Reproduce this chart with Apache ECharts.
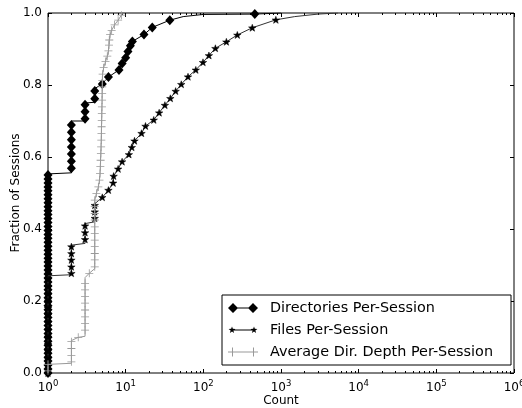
<!DOCTYPE html>
<html>
<head>
<meta charset="utf-8">
<script src="https://cdn.jsdelivr.net/npm/echarts@6/dist/echarts.min.js"></script>
<style>html,body{margin:0;padding:0;background:#fff;}#c{width:522px;height:408px;}</style>
</head>
<body>
<div id="c"></div>
<script>
// ---- data ----
const seriesNames = ['Directories Per-Session', 'Files Per-Session', 'Average Dir. Depth Per-Session'];
const xMajorTicks = [1, 10, 100, 1000, 10000, 100000, 1000000];
const xMinorTicks = [2,3,4,5,6,7,8,9,20,30,40,50,60,70,80,90,200,300,400,500,600,700,800,900,
  2000,3000,4000,5000,6000,7000,8000,9000,20000,30000,40000,50000,60000,70000,80000,90000,
  200000,300000,400000,500000,600000,700000,800000,900000];
const yTicks = [0, 0.2, 0.4, 0.6, 0.8, 1.0];

// Directories: curve vertices and marker points
const dirLine = [[1,0],[1,0.553],[2,0.556],[2,0.70],[3,0.70],[3,0.75],[4,0.752],[4,0.79],[5,0.803],[6,0.822],
  [8.2,0.842],[9,0.86],[10,0.876],[10.7,0.893],[11.5,0.909],[12.2,0.921],[17.2,0.94],[22,0.96],[37,0.98],
  [55,0.99],[100,0.996],[460,0.997],[1000,1.0]];
const dirMarks = [[1,0],[1,0.011],[1,0.022],[1,0.033],[1,0.044],[1,0.055],[1,0.066],[1,0.077],[1,0.088],[1,0.099],
  [1,0.11],[1,0.121],[1,0.132],[1,0.143],[1,0.154],[1,0.165],[1,0.176],[1,0.187],[1,0.198],[1,0.209],
  [1,0.22],[1,0.231],[1,0.242],[1,0.253],[1,0.264],[1,0.275],[1,0.286],[1,0.297],[1,0.308],[1,0.319],
  [1,0.33],[1,0.341],[1,0.352],[1,0.363],[1,0.374],[1,0.385],[1,0.396],[1,0.407],[1,0.418],[1,0.429],
  [1,0.44],[1,0.451],[1,0.462],[1,0.473],[1,0.484],[1,0.495],[1,0.506],[1,0.517],[1,0.528],[1,0.539],[1,0.55],
  [2,0.569],[2,0.588],[2,0.608],[2,0.628],[2,0.648],[2,0.669],[2,0.689],
  [3,0.706],[3,0.726],[3,0.745],[4,0.762],[4,0.783],
  [5,0.803],[6,0.822],[8.2,0.842],[9,0.86],[10,0.876],[10.7,0.893],[11.5,0.909],[12.2,0.921],
  [17.2,0.94],[22,0.96],[37,0.98],[460,0.997]];

// Files
const filesLine = [[1,0],[1,0.27],[2,0.273],[2,0.355],[3,0.36],[3,0.415],[4,0.42],[4,0.47],[5,0.488],[6,0.508],
  [6.9,0.528],[7,0.547],[8,0.567],[9,0.587],[11,0.607],[12,0.627],[13,0.645],[16,0.666],[18,0.686],[23,0.703],
  [27,0.723],[32,0.744],[37.6,0.763],[44,0.783],[52,0.802],[63.5,0.823],[80,0.842],[99,0.863],[118,0.882],
  [143,0.902],[198,0.92],[274,0.939],[427,0.959],[859,0.981],[1500,0.99],[3000,0.997],[5400,1.0]];
const filesMarks = [[1,0],[1,0.02],[1,0.04],[1,0.06],[1,0.08],[1,0.1],[1,0.12],[1,0.14],[1,0.16],[1,0.18],
  [1,0.2],[1,0.22],[1,0.24],[1,0.26],
  [2,0.277],[2,0.295],[2,0.314],[2,0.332],[2,0.351],[3,0.371],[3,0.39],[3,0.409],[4,0.43],[4,0.448],[4,0.466],
  [5,0.488],[6,0.508],[6.9,0.528],[7,0.547],[8,0.567],[9,0.587],[11,0.607],[12,0.627],[13,0.645],[16,0.666],
  [18,0.686],[23,0.703],[27,0.723],[32,0.744],[37.6,0.763],[44,0.783],[52,0.802],[63.5,0.823],[80,0.842],
  [99,0.863],[118,0.882],[143,0.902],[198,0.92],[274,0.939],[427,0.959],[859,0.981]];

// Average directory depth
const avgLine = [[1,0],[1,0.024],[2,0.027],[2,0.09],[2.45,0.099],[3,0.102],[3,0.265],[3.4,0.277],[4,0.29],[4,0.48],
  [4.2,0.499],[4.45,0.517],[4.6,0.536],[4.68,0.554],[4.75,0.59],[4.82,0.63],[4.88,0.68],[4.93,0.72],[4.97,0.76],
  [5.0,0.8],[5.05,0.83],[5.2,0.848],[5.5,0.865],[5.8,0.88],[6.0,0.895],[6.1,0.911],[6.15,0.925],[6.3,0.94],
  [6.6,0.952],[7.2,0.967],[8.0,0.98],[8.8,0.994],[9.3,1.0]];
const avgMarks = [[1,0.006],[1,0.024],[2,0.031],[2,0.049],[2,0.068],[2,0.087],[2.45,0.099],
  [3,0.119],[3,0.138],[3,0.156],[3,0.175],[3,0.194],[3,0.212],[3,0.231],[3,0.249],[3.4,0.277],
  [4,0.295],[4,0.314],[4,0.332],[4,0.351],[4,0.369],[4,0.388],[4,0.406],[4,0.425],[4,0.443],[4,0.462],[4,0.48],
  [4.2,0.499],[4.45,0.517],[4.6,0.536],[4.68,0.554],[4.72,0.573],[4.76,0.591],[4.8,0.61],[4.83,0.628],
  [4.86,0.647],[4.88,0.665],[4.9,0.684],[4.92,0.702],[4.93,0.721],[4.95,0.739],[4.97,0.758],[4.98,0.776],
  [5.0,0.795],[5.0,0.813],[5.05,0.83],[5.2,0.848],[5.5,0.865],[5.8,0.88],[6.0,0.895],[6.1,0.911],[6.15,0.925],
  [6.3,0.94],[6.6,0.952],[7.2,0.967],[8.0,0.98],[8.8,0.994]];

// ---- styling ----
const F = 'DejaVu Sans';
const DIAMOND = 'diamond';
const STAR = 'path://M50,0 L61.8,33.8 L97.6,34.5 L69,56.2 L79.4,90.5 L50,70 L20.6,90.5 L31,56.2 L2.4,34.5 L38.2,33.8 Z';
const PLUS = 'path://M0,45 L100,45 L100,55 L0,55 Z M45,0 L55,0 L55,100 L45,100 Z';
const ANCH = ' M0,0 L0.01,0 L0.01,0.01 Z M29.99,9.99 L30,9.99 L30,10 Z';
const ICON_DIR = 'path://M0,5 L5,0 L10,5 L5,10 Z M20,5 L25,0 L30,5 L25,10 Z M5,4.5 L25,4.5 L25,5.5 L5,5.5 Z';
const ICON_FILES = 'path://M4,1.4 L4.85,3.83 L7.42,3.89 L5.38,5.45 L6.12,7.91 L4,6.45 L1.88,7.91 L2.62,5.45 L0.58,3.89 L3.15,3.83 Z ' +
  'M26,1.4 L26.85,3.83 L29.42,3.89 L27.38,5.45 L28.12,7.91 L26,6.45 L23.88,7.91 L24.62,5.45 L22.58,3.89 L25.15,3.83 Z ' +
  'M4,4.5 L26,4.5 L26,5.5 L4,5.5 Z' + ANCH;
const ICON_AVG = 'path://M0,4.5 L9,4.5 L9,5.5 L0,5.5 Z M4,0.5 L5,0.5 L5,9.5 L4,9.5 Z M21,4.5 L30,4.5 L30,5.5 L21,5.5 Z ' +
  'M25,0.5 L26,0.5 L26,9.5 L25,9.5 Z M4.5,4.5 L25.5,4.5 L25.5,5.5 L4.5,5.5 Z' + ANCH;

const expLabel = v => '{b|10}{e|' + Math.round(Math.log10(v)) + '}';
function xAxisDef(pos, major, show) {
  return {
    type: 'log', logBase: 10, min: 1, max: 1000000, position: pos,
    axisLine: {show: false}, splitLine: {show: false},
    axisTick: {show: true, inside: true, length: major ? 4 : 2,
      customValues: major ? xMajorTicks : xMinorTicks, lineStyle: {color: '#000', width: 1}},
    axisLabel: show ? {show: true, customValues: xMajorTicks, formatter: expLabel, margin: 6,
      rich: {b: {fontFamily: F, fontSize: 12, color: '#000'},
             e: {fontFamily: F, fontSize: 8.5, color: '#000', padding: [0, 0, 8, 0]}}} : {show: false}
  };
}
const xs = [xAxisDef('bottom', true, true), xAxisDef('bottom', false, false), xAxisDef('top', true, false), xAxisDef('top', false, false)];
xs[0].name = 'Count'; xs[0].nameLocation = 'middle'; xs[0].nameGap = 22; xs[0].nameMoveOverlap = false;
xs[0].nameTextStyle = {fontFamily: F, fontSize: 12, color: '#000'};

function yAxisDef(pos, show) {
  return {
    type: 'value', min: 0, max: 1, interval: 0.2, position: pos,
    axisLine: {show: false}, splitLine: {show: false},
    axisTick: {show: true, inside: true, length: 4, customValues: yTicks, lineStyle: {color: '#000'}},
    axisLabel: show ? {show: true, customValues: yTicks, formatter: v => v.toFixed(1), fontFamily: F, fontSize: 12, color: '#000', margin: 6} : {show: false}
  };
}
const ys = [yAxisDef('left', true), yAxisDef('right', false)];
ys[0].name = 'Fraction of Sessions'; ys[0].nameLocation = 'middle'; ys[0].nameGap = 26; ys[0].nameMoveOverlap = false;
ys[0].nameTextStyle = {fontFamily: F, fontSize: 12, color: '#000'};

const chart = echarts.init(document.getElementById('c'), null, {renderer: 'canvas'});
chart.setOption({
  animation: false,
  backgroundColor: '#fff',
  grid: {left: 48, right: 8, top: 13, bottom: 35, show: true, borderColor: '#000', borderWidth: 1,
    containLabel: false, outerBoundsMode: 'none'},
  xAxis: xs,
  yAxis: ys,
  legend: {
    left: 222, top: 295, orient: 'vertical', itemWidth: 30, itemHeight: 10, itemGap: 8,
    padding: [6, 18, 6, 6], borderColor: '#000', borderWidth: 1, borderRadius: 0, backgroundColor: '#fff',
    textStyle: {fontFamily: F, fontSize: 14.4, color: '#000', padding: [0, 0, 0, 7]},
    data: [
      {name: seriesNames[0], icon: ICON_DIR, itemStyle: {color: '#000'}},
      {name: seriesNames[1], icon: ICON_FILES, itemStyle: {color: '#000'}},
      {name: seriesNames[2], icon: ICON_AVG, itemStyle: {color: '#999'}}
    ]
  },
  series: [
    {name: seriesNames[0], type: 'line', data: dirLine, showSymbol: false, symbol: 'none',
      lineStyle: {color: '#000', width: 1}, itemStyle: {color: '#000'}, z: 2},
    {name: seriesNames[0], type: 'scatter', data: dirMarks, symbol: DIAMOND, symbolSize: [9, 10],
      itemStyle: {color: '#000', opacity: 1}, z: 2},
    {name: seriesNames[1], type: 'line', data: filesLine, showSymbol: false, symbol: 'none',
      lineStyle: {color: '#333', width: 1}, itemStyle: {color: '#333'}, z: 3},
    {name: seriesNames[1], type: 'scatter', data: filesMarks, symbol: STAR, symbolSize: [7.5, 7],
      itemStyle: {color: '#000', borderColor: '#000', borderWidth: 0.5, opacity: 1}, z: 3},
    {name: seriesNames[2], type: 'line', data: avgLine, showSymbol: false, symbol: 'none',
      lineStyle: {color: '#999', width: 1}, itemStyle: {color: '#999'}, z: 4},
    {name: seriesNames[2], type: 'scatter', data: avgMarks, symbol: PLUS, symbolSize: 8,
      itemStyle: {color: '#999', opacity: 1}, z: 4}
  ]
});
</script>
</body>
</html>
